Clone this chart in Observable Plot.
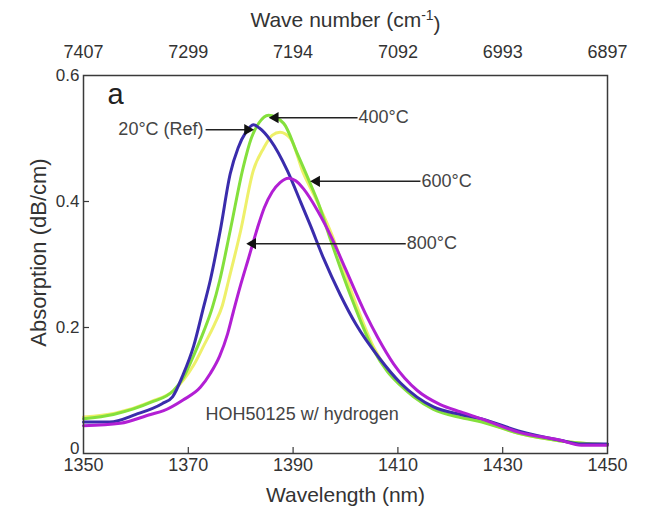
<!DOCTYPE html>
<html><head><meta charset="utf-8">
<script src="https://cdn.jsdelivr.net/npm/d3@7"></script>
<script src="https://cdn.jsdelivr.net/npm/@observablehq/plot@0.6"></script>
<style>body{margin:0;background:#fff}</style>
</head><body><div id="chart"></div>
<script>
// Axis ticks
const xTicks = [1350, 1370, 1390, 1410, 1430, 1450];
const waveNumberLabels = ["7407", "7299", "7194", "7092", "6993", "6897"];
const yTicks = [0, 0.2, 0.4, 0.6];

// 20°C (Ref)
const wl20 = [1350,1355,1360,1365,1367,1369,1371,1372.9,1374.2,1376.1,1378,1379.5,1381,1382.4,1383.5,1385.7,1388.9,1391.4,1393.3,1395.8,1399,1402,1406.4,1410.5,1416.8,1422,1426,1433,1441,1445,1450];
const abs20 = [0.050,0.050,0.062,0.079,0.090,0.125,0.170,0.232,0.275,0.354,0.444,0.485,0.510,0.522,0.517,0.497,0.449,0.400,0.362,0.310,0.252,0.205,0.152,0.112,0.074,0.062,0.055,0.036,0.021,0.015,0.015];
// 400°C
const wl400 = [1350,1355.7,1362.8,1367.2,1369.1,1371,1373,1374.6,1376,1378,1380.5,1382,1383.5,1385.3,1388.2,1390.8,1393.3,1394.7,1397.2,1401,1405.3,1408,1410.5,1413,1416.8,1422,1426,1433,1441,1450];
const abs400 = [0.055,0.062,0.081,0.100,0.121,0.155,0.195,0.232,0.275,0.354,0.455,0.500,0.525,0.537,0.524,0.476,0.428,0.400,0.338,0.250,0.165,0.130,0.108,0.090,0.070,0.057,0.050,0.032,0.020,0.014];
// 600°C
const wl600 = [1350,1356,1362.8,1367.2,1369.1,1371,1373,1375,1376.5,1377.7,1380,1382.4,1384.4,1386,1387.5,1389.5,1392,1394,1397.5,1401,1405.3,1408,1410.5,1413,1416.8,1422,1426,1433,1441,1450];
const abs600 = [0.058,0.064,0.082,0.100,0.117,0.140,0.172,0.205,0.235,0.275,0.354,0.449,0.485,0.505,0.510,0.500,0.444,0.410,0.345,0.260,0.170,0.133,0.110,0.092,0.071,0.058,0.051,0.032,0.020,0.014];
// 800°C
const wl800 = [1350,1357,1362.8,1365.3,1369,1372.3,1374.2,1376,1377.5,1378.6,1380,1381.5,1383.2,1384.5,1386,1387.5,1389.1,1390.5,1392,1394.7,1397.5,1400,1403.8,1406.1,1409.2,1413.7,1418,1422,1426,1433,1441,1445,1450];
const abs800 = [0.044,0.048,0.062,0.068,0.085,0.105,0.127,0.155,0.190,0.225,0.268,0.310,0.358,0.390,0.415,0.430,0.437,0.433,0.420,0.385,0.340,0.293,0.222,0.185,0.142,0.100,0.078,0.066,0.055,0.034,0.021,0.013,0.013];

const seriesNames = ["600°C", "400°C", "20°C (Ref)", "800°C"];
const seriesColors = ["#eef06a", "#84e03c", "#3a2cac", "#b21fd4"];
const seriesWl = [wl600, wl400, wl20, wl800];
const seriesAbs = [abs600, abs400, abs20, abs800];

// Annotations: label, arrow start x (next to the label), arrow tip x, y
const annLabels = ["20°C (Ref)", "400°C", "600°C", "800°C"];
const annStartX = [1373.3, 1402.3, 1414.3, 1411.5];
const annTipX = [1381.3, 1386.6, 1394.5, 1382.3];
const annY = [0.514, 0.533, 0.432, 0.333];

const sampleLabel = "HOH50125 w/ hydrogen";
const sampleX = 1373.3, sampleY = 0.063;
const panelLabel = "a";

const curves = [];
seriesNames.forEach((name, i) => {
  seriesWl[i].forEach((w, j) => curves.push({series: name, wl: w, abs: seriesAbs[i][j]}));
});
const ann = annLabels.map((t, i) => ({
  text: t, x1: annStartX[i], x2: annTipX[i], y: annY[i],
  dir: annTipX[i] > annStartX[i] ? 1 : -1
}));
const annRight = ann.filter(d => d.dir > 0); // label left of arrow
const annLeft = ann.filter(d => d.dir < 0);  // label right of arrow

const W = 646, H = 509, mL = 83, mR = 39, mT = 75, mB = 56;
const innerH = H - mT - mB, innerW = W - mL - mR;

const chart = Plot.plot({
  width: W, height: H,
  marginLeft: mL, marginRight: mR, marginTop: mT, marginBottom: mB,
  x: {domain: [1350, 1450]},
  y: {domain: [0, 0.6]},
  color: {domain: seriesNames, range: seriesColors},
  style: {fontFamily: "'Liberation Sans', Arial, sans-serif", fontSize: "18px", color: "#333", background: "#fff"},
  marks: [
    Plot.line(curves, {x: "wl", y: "abs", z: "series", stroke: "series", strokeWidth: 3, curve: "monotone-x"}),
    Plot.frame({stroke: "#3a3a3a", strokeWidth: 1.5}),
    Plot.axisX({anchor: "bottom", ticks: xTicks, tickSize: 0, tickPadding: 5, fontSize: 18,
      tickFormat: d => String(d), label: null}),
    Plot.axisX({anchor: "top", ticks: xTicks, tickSize: 0, tickPadding: 18, fontSize: 18,
      tickFormat: d => waveNumberLabels[xTicks.indexOf(d)], label: null}),
    Plot.axisY({anchor: "left", ticks: yTicks, tickSize: 0, tickPadding: 4, fontSize: 17,
      tickFormat: d => d === 0 ? "0" : d.toFixed(1), label: null}),
    Plot.tickX(xTicks.slice(1, -1), {x: d => d, insetTop: innerH - 6, stroke: "#3a3a3a", strokeWidth: 1.2}),
    Plot.tickY(yTicks.slice(1, -1), {y: d => d, insetRight: innerW - 6, stroke: "#3a3a3a", strokeWidth: 1.2}),
    Plot.text(["Wavelength (nm)"], {frameAnchor: "bottom", lineAnchor: "middle", dy: 42, fontSize: 21, fill: "#333"}),
    Plot.text(["Wave number (cm-1)"], {frameAnchor: "top", lineAnchor: "middle", dy: -55, fontSize: 21, fill: "#333"}),
    Plot.text(["Absorption (dB/cm)"], {frameAnchor: "left", textAnchor: "middle", lineAnchor: "middle",
      dx: -45, dy: -12, rotate: -90, fontSize: 22, fill: "#333"}),
    Plot.text([panelLabel], {frameAnchor: "top-left", lineAnchor: "top", dx: 24, dy: 8, fontSize: 29, fill: "#222"}),
    Plot.text([sampleLabel], {x: [sampleX], y: [sampleY], textAnchor: "start", fontSize: 18, fill: "#444"}),
    Plot.link(ann, {x1: "x1", x2: "x2", y1: "y", y2: "y", stroke: "#222", strokeWidth: 1.5}),
    Plot.dot(ann, {x: "x2", y: "y", symbol: "triangle", r: 4.2, fill: "#111", stroke: "none",
      rotate: d => d.dir > 0 ? 90 : -90}),
    Plot.text(annRight, {x: "x1", y: "y", text: "text", textAnchor: "end", dx: -2, fontSize: 18, fill: "#444"}),
    Plot.text(annLeft, {x: "x1", y: "y", text: "text", textAnchor: "start", dx: 1, fontSize: 18, fill: "#444"})
  ]
});
document.getElementById("chart").appendChild(chart);

// superscript for the top axis label
d3.select(chart).selectAll("text").filter(function () { return this.textContent === "Wave number (cm-1)"; })
  .each(function () {
    const t = d3.select(this);
    t.text("");
    t.append("tspan").text("Wave number (cm");
    t.append("tspan").attr("dy", "-0.5em").attr("font-size", "14").text("-1");
    t.append("tspan").attr("dy", "0.5em").text(")");
  });
// lift the "0" tick label slightly as in the reference
d3.select(chart).selectAll("g[aria-label='y-axis tick label'] text")
  .filter(function () { return this.textContent === "0"; })
  .attr("dy", "-0.3em");
</script>
</body></html>
